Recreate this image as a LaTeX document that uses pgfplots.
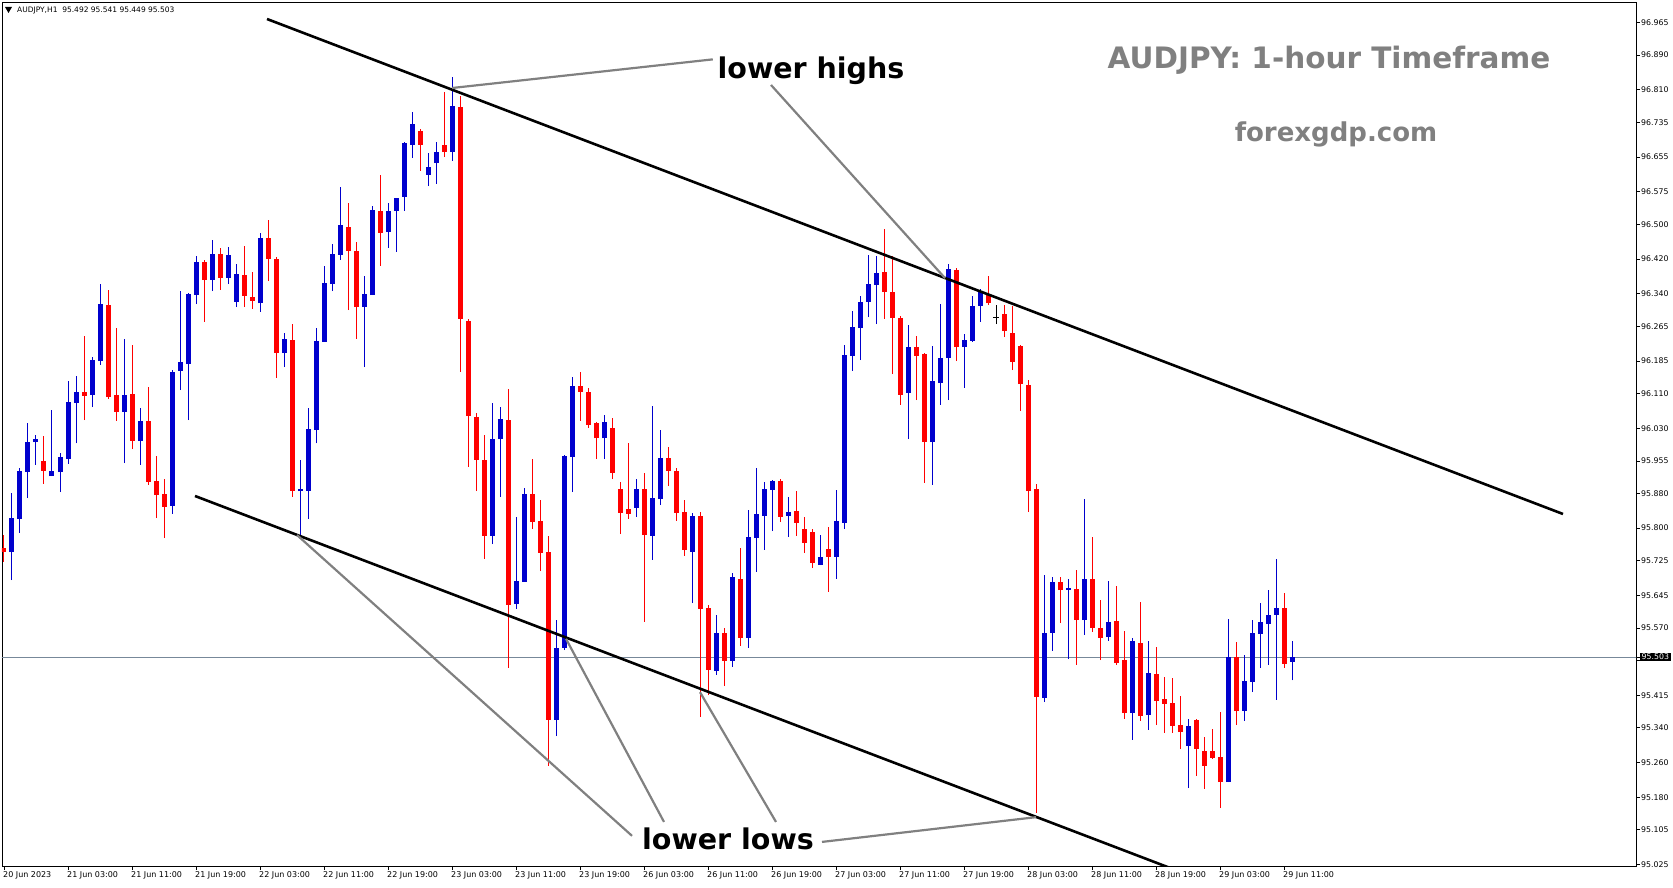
\documentclass[border=0pt]{standalone}
\usepackage{fontspec}
\setmainfont{DejaVu Sans}
\usepackage{pgfplots}
\usepackage{pgfplotstable}
\pgfplotsset{compat=1.18}
\definecolor{mtblue}{RGB}{0,0,205}
\definecolor{mtred}{RGB}{255,0,0}
\definecolor{anngray}{RGB}{128,128,128}
\definecolor{pline}{RGB}{119,136,153}

\pgfplotstableread{
i O H L C
1 95.745 95.881 95.680 95.823
2 95.821 95.938 95.789 95.932
3 95.929 96.042 95.869 95.998
4 95.998 96.015 95.946 96.005
6 95.920 96.072 95.920 95.932
7 95.929 95.973 95.883 95.964
8 95.959 96.139 95.948 96.091
9 96.088 96.150 95.995 96.114
11 96.107 96.194 96.079 96.187
12 96.185 96.362 96.176 96.316
15 96.068 96.236 95.950 96.107
17 96.001 96.077 95.946 96.047
21 95.851 96.164 95.833 96.160
22 96.162 96.346 96.118 96.183
23 96.178 96.342 96.049 96.339
24 96.337 96.427 96.316 96.413
26 96.372 96.464 96.346 96.432
28 96.377 96.448 96.362 96.430
29 96.321 96.408 96.309 96.385
32 96.318 96.480 96.298 96.468
35 96.203 96.250 96.171 96.236
37 95.885 95.957 95.784 95.890
38 95.885 96.077 95.821 96.028
39 96.026 96.261 95.995 96.231
40 96.229 96.404 96.229 96.365
41 96.362 96.455 96.346 96.432
42 96.430 96.586 96.418 96.499
45 96.309 96.381 96.171 96.339
46 96.337 96.542 96.337 96.533
48 96.482 96.549 96.446 96.531
49 96.531 96.561 96.437 96.561
50 96.563 96.690 96.531 96.687
51 96.683 96.759 96.653 96.731
53 96.614 96.664 96.588 96.632
54 96.641 96.690 96.593 96.666
56 96.666 96.840 96.646 96.773
61 95.782 96.088 95.763 96.005
62 96.005 96.079 95.872 96.051
64 95.625 95.826 95.614 95.678
65 95.676 95.892 95.676 95.879
69 95.358 95.588 95.321 95.524
70 95.524 95.969 95.519 95.966
71 95.964 96.148 95.883 96.127
75 96.007 96.061 95.959 96.045
79 95.847 95.913 95.826 95.890
81 95.782 96.081 95.727 95.869
82 95.867 96.026 95.853 95.962
86 95.745 95.835 95.627 95.828
89 95.471 95.600 95.462 95.559
91 95.494 95.697 95.480 95.688
93 95.547 95.842 95.524 95.780
94 95.777 95.938 95.699 95.833
95 95.828 95.906 95.750 95.890
96 95.888 95.911 95.793 95.909
98 95.828 95.872 95.780 95.837
102 95.715 95.784 95.715 95.734
104 95.734 95.888 95.683 95.816
105 95.812 96.222 95.798 96.199
106 96.197 96.300 96.162 96.263
107 96.261 96.335 96.187 96.321
108 96.321 96.430 96.286 96.362
109 96.360 96.427 96.270 96.388
113 96.111 96.268 96.005 96.217
116 95.998 96.220 95.900 96.139
117 96.134 96.316 96.084 96.192
118 96.192 96.408 96.095 96.397
120 96.217 96.247 96.123 96.233
121 96.231 96.335 96.229 96.312
122 96.312 96.351 96.275 96.344
130 95.409 95.692 95.399 95.559
131 95.559 95.688 95.517 95.676
133 95.657 95.683 95.498 95.662
135 95.588 95.867 95.554 95.683
138 95.549 95.678 95.540 95.584
141 95.374 95.547 95.312 95.540
143 95.369 95.540 95.335 95.466
148 95.298 95.361 95.201 95.344
153 95.215 95.591 95.215 95.503
155 95.379 95.508 95.356 95.448
156 95.446 95.588 95.422 95.559
157 95.556 95.627 95.478 95.584
158 95.579 95.657 95.485 95.600
159 95.600 95.729 95.404 95.616
161 95.492 95.541 95.449 95.503
}\bull

\pgfplotstableread{
i O H L C
0 95.754 95.784 95.722 95.745
5 95.955 96.012 95.902 95.932
10 96.114 96.243 96.049 96.105
13 96.314 96.349 96.097 96.102
14 96.107 96.261 96.047 96.068
16 96.109 96.222 95.982 96.001
18 96.047 96.125 95.900 95.906
19 95.909 95.966 95.823 95.876
20 95.879 95.913 95.777 95.849
25 96.413 96.418 96.275 96.372
27 96.432 96.446 96.349 96.377
30 96.383 96.450 96.309 96.335
31 96.332 96.390 96.305 96.323
33 96.468 96.510 96.369 96.420
34 96.420 96.425 96.146 96.203
36 96.233 96.270 95.872 95.885
43 96.494 96.549 96.302 96.439
44 96.439 96.459 96.236 96.309
47 96.531 96.614 96.404 96.480
52 96.715 96.720 96.623 96.683
55 96.683 96.805 96.655 96.666
57 96.770 96.796 96.160 96.282
58 96.277 96.282 95.941 96.058
59 96.056 96.065 95.885 95.957
60 95.957 96.015 95.729 95.782
63 96.049 96.121 95.478 95.623
66 95.879 95.959 95.798 95.814
67 95.816 95.865 95.701 95.743
68 95.745 95.782 95.252 95.358
72 96.127 96.160 96.047 96.114
73 96.114 96.123 96.031 96.038
74 96.042 96.045 95.959 96.007
76 96.031 96.054 95.913 95.927
77 95.890 95.906 95.786 95.835
78 95.844 95.995 95.821 95.833
80 95.890 95.927 95.584 95.784
83 95.962 95.987 95.897 95.932
84 95.932 95.938 95.817 95.835
85 95.837 95.865 95.736 95.750
87 95.828 95.837 95.365 95.614
88 95.616 95.623 95.415 95.473
90 95.559 95.570 95.436 95.494
92 95.683 95.754 95.529 95.547
97 95.909 95.913 95.814 95.826
99 95.840 95.885 95.782 95.812
100 95.798 95.826 95.743 95.766
101 95.791 95.798 95.708 95.720
103 95.752 95.803 95.653 95.734
110 96.390 96.489 96.282 96.344
111 96.344 96.427 96.155 96.284
112 96.284 96.288 96.084 96.107
114 96.217 96.243 96.095 96.197
115 96.201 96.204 95.904 95.998
119 96.395 96.400 96.185 96.217
123 96.337 96.381 96.314 96.318
125 96.293 96.314 96.240 96.254
126 96.250 96.312 96.164 96.183
127 96.220 96.222 96.070 96.132
128 96.130 96.141 95.837 95.885
129 95.890 95.902 95.144 95.411
132 95.676 95.688 95.581 95.657
134 95.660 95.704 95.485 95.588
136 95.683 95.780 95.561 95.570
137 95.570 95.634 95.496 95.547
139 95.586 95.667 95.485 95.489
140 95.496 95.563 95.361 95.374
142 95.535 95.630 95.356 95.367
144 95.464 95.526 95.346 95.402
145 95.406 95.457 95.328 95.395
146 95.397 95.455 95.328 95.344
147 95.346 95.413 95.291 95.330
149 95.358 95.361 95.229 95.291
150 95.287 95.319 95.199 95.252
151 95.287 95.337 95.269 95.271
152 95.273 95.376 95.155 95.215
154 95.503 95.538 95.346 95.379
160 95.616 95.651 95.478 95.487
}\bear

\begin{document}
\begin{tikzpicture}
\begin{axis}[
  at={(0,0)}, anchor=south west,
  scale only axis, width=1634pt, height=864pt,
  xmin=-0.25, xmax=204, ymin=95.0215, ymax=97.0122,
  axis line style={line width=0.8pt, black},
  tick align=outside, xtick pos=left, ytick pos=right,
  major tick length=4pt,
  tick style={black, line width=0.6pt},
  xtick={0,8,...,160},
  xticklabels={20 Jun 2023,21 Jun 03:00,21 Jun 11:00,21 Jun 19:00,22 Jun 03:00,22 Jun 11:00,22 Jun 19:00,23 Jun 03:00,23 Jun 11:00,23 Jun 19:00,26 Jun 03:00,26 Jun 11:00,26 Jun 19:00,27 Jun 03:00,27 Jun 11:00,27 Jun 19:00,28 Jun 03:00,28 Jun 11:00,28 Jun 19:00,29 Jun 03:00,29 Jun 11:00},
  xticklabel style={anchor=north west, font=\fontsize{8}{9}\selectfont, xshift=-2pt, inner sep=1pt},
  ytick={95.025,95.105,95.180,95.260,95.340,95.415,95.495,95.570,95.645,95.725,95.800,95.880,95.955,96.030,96.110,96.185,96.265,96.340,96.420,96.500,96.575,96.655,96.735,96.810,96.890,96.965},
  yticklabels={95.025,95.105,95.180,95.260,95.340,95.415,{},95.570,95.645,95.725,95.800,95.880,95.955,96.030,96.110,96.185,96.265,96.340,96.420,96.500,96.575,96.655,96.735,96.810,96.890,96.965},
  yticklabel style={anchor=west, font=\fontsize{7.8}{9}\selectfont, inner sep=1pt},
  extra y ticks={95.503},
  extra y tick labels={95.503},
  extra y tick style={yticklabel style={fill=black, text=white, inner sep=1.5pt}},
]
% last price line
\addplot[pline, line width=0.8pt, forget plot] coordinates {(-1,95.503) (210,95.503)};
% bull candles
\addplot[draw=none, mark=none, forget plot,
  error bars/.cd, y dir=plus, y explicit, error mark=none,
  error bar style={draw=mtblue, line width=1pt}]
  table[x=i, y=L, y error plus expr={\thisrow{H}-\thisrow{L}}] {\bull};
\addplot[draw=none, mark=none, forget plot,
  error bars/.cd, y dir=plus, y explicit, error mark=none,
  error bar style={draw=mtblue, line width=5pt}]
  table[x=i, y=O, y error plus expr={\thisrow{C}-\thisrow{O}}] {\bull};
% bear candles
\addplot[draw=none, mark=none, forget plot,
  error bars/.cd, y dir=plus, y explicit, error mark=none,
  error bar style={draw=mtred, line width=1pt}]
  table[x=i, y=L, y error plus expr={\thisrow{H}-\thisrow{L}}] {\bear};
\addplot[draw=none, mark=none, forget plot,
  error bars/.cd, y dir=plus, y explicit, error mark=none,
  error bar style={draw=mtred, line width=5pt}]
  table[x=i, y=C, y error plus expr={\thisrow{O}-\thisrow{C}}] {\bear};
% doji
\addplot[black, line width=1pt, forget plot] coordinates {(124,96.270) (124,96.314)};
\addplot[black, line width=1pt, forget plot] coordinates {(123.6,96.286) (124.4,96.286)};
% channel lines
\addplot[black, line width=2.6pt, forget plot] coordinates {(32.875,96.973) (194.875,95.8325)};
\addplot[black, line width=2.6pt, forget plot] coordinates {(23.875,95.874) (145.75,95.017)};
% annotation connectors
\addplot[anngray, line width=2.2pt, forget plot] coordinates {(56.0,96.814) (88.6,96.880)};
\addplot[anngray, line width=2.2pt, forget plot] coordinates {(95.875,96.821) (117.625,96.376)};
\addplot[anngray, line width=2.2pt, forget plot] coordinates {(36.625,95.784) (78.5,95.091)};
\addplot[anngray, line width=2.2pt, forget plot] coordinates {(70.25,95.545) (82.5,95.123)};
\addplot[anngray, line width=2.2pt, forget plot] coordinates {(87.0,95.422) (96.5,95.123)};
\addplot[anngray, line width=2.2pt, forget plot] coordinates {(102.25,95.077) (129.0,95.134)};
\end{axis}
\node[font=\fontsize{28.5}{34}\bfseries\selectfont] at (809pt,795pt) {lower highs};
\node[font=\fontsize{28.5}{34}\bfseries\selectfont] at (726pt,27pt) {lower lows};
\node[anngray, font=\fontsize{29.5}{35}\bfseries\selectfont] at (1327pt,806pt) {AUDJPY: 1-hour Timeframe};
\node[anngray, font=\fontsize{26}{31}\bfseries\selectfont] at (1334pt,732pt) {forexgdp.com};
\fill (3pt,859pt) -- (10pt,859pt) -- (6.5pt,853pt) -- cycle;
\node[anchor=west, font=\fontsize{7.5}{9}\selectfont, inner sep=0pt] at (15pt,855.5pt) {AUDJPY,H1\ \ 95.492 95.541 95.449 95.503};
\pgfresetboundingbox
\path (-2pt,-22pt) rectangle (1671pt,866pt);
\end{tikzpicture}
\end{document}
